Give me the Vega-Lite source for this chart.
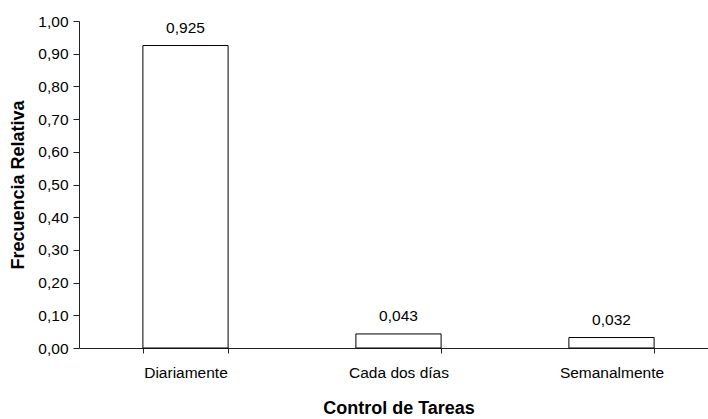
{
  "$schema": "https://vega.github.io/schema/vega-lite/v6.json",
  "width": 639,
  "height": 327,
  "autosize": {"type": "none"},
  "padding": {"left": 79, "top": 21, "right": 0, "bottom": 71},
  "background": "white",
  "config": {
    "view": {"stroke": null},
    "locale": {"number": {"decimal": ",", "thousands": ".", "grouping": [3], "currency": ["", " €"]}},
    "axis": {"labelFont": "Liberation Sans", "titleFont": "Liberation Sans", "labelColor": "black", "titleColor": "black", "domainColor": "#222", "tickColor": "#222", "grid": false}
  },
  "data": {
    "values": [
      {"control": "Diariamente", "frecuencia": 0.925},
      {"control": "Cada dos días", "frecuencia": 0.043},
      {"control": "Semanalmente", "frecuencia": 0.032}
    ]
  },
  "encoding": {
    "x": {
      "field": "control", "type": "nominal", "sort": null,
      "scale": {"paddingInner": 0.6, "paddingOuter": 0.3},
      "axis": {"title": "Control de Tareas", "labelAngle": 0, "labelFontSize": 15.5, "titleFontSize": 18, "titleFontWeight": "bold", "tickBand": "extent", "tickSize": 5, "labelPadding": 12, "titlePadding": 19}
    },
    "y": {
      "field": "frecuencia", "type": "quantitative",
      "scale": {"domain": [0, 1], "nice": false},
      "axis": {"title": "Frecuencia Relativa", "values": [0, 0.1, 0.2, 0.3, 0.4, 0.5, 0.6, 0.7, 0.8, 0.9, 1.0], "format": ".2f", "labelFontSize": 15.5, "titleFontSize": 18, "titleFontWeight": "bold", "tickSize": 6, "labelPadding": 5, "titlePadding": 10}
    }
  },
  "layer": [
    {"mark": {"type": "bar", "fill": "white", "stroke": "black", "strokeWidth": 1}},
    {"mark": {"type": "text", "dy": -13, "baseline": "alphabetic", "font": "Liberation Sans", "fontSize": 15.5, "color": "black"},
     "encoding": {"text": {"field": "frecuencia", "type": "quantitative", "format": ".3f"}}}
  ]
}
